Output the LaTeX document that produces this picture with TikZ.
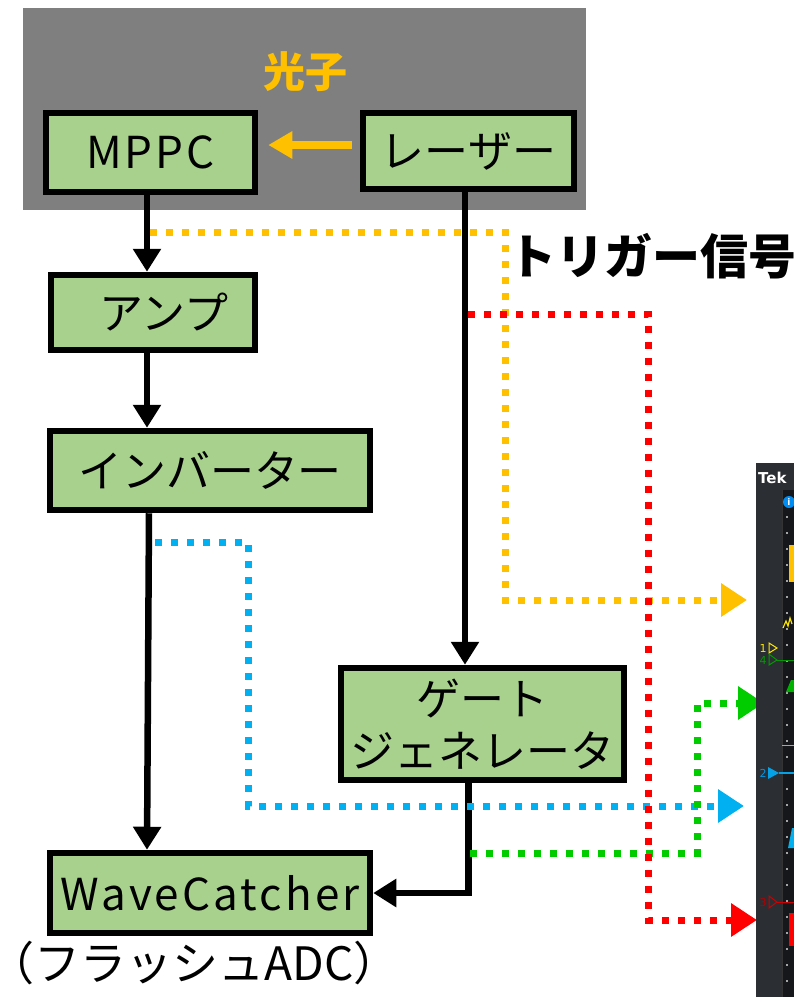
\documentclass[tikz,border=0pt]{standalone}
\usepackage{fontspec}
\setmainfont{Noto Sans CJK JP}
\newfontfamily\sansfont{DejaVu Sans}
\usetikzlibrary{arrows.meta}
\definecolor{boxgreen}{HTML}{A9D18E}
\definecolor{boxgray}{HTML}{7F7F7F}
\definecolor{sigorange}{HTML}{FFC000}
\definecolor{sigred}{HTML}{FF0000}
\definecolor{sigblue}{HTML}{00B0F0}
\definecolor{siggreen}{HTML}{00CC00}
\definecolor{scopebg}{HTML}{2B2E33}
\definecolor{scopegrid}{HTML}{15171A}
\newcommand{\spaced}[1]{{\addfontfeature{LetterSpace=7}#1}}
\tikzset{
  box/.style={draw=black, line width=6.5pt, fill=boxgreen, inner sep=0pt,
    font=\fontsize{44}{52}\selectfont, align=center},
  conn/.style={line width=6.5pt, -{Triangle[length=23pt,width=27pt]}},
  sig/.style={line width=7pt, dash pattern=on 7pt off 9pt,
    -{Triangle[length=26pt,width=32pt]}},
}
\begin{document}
\begin{tikzpicture}[x=1pt,y=-1pt]
\useasboundingbox (0,0) rectangle (794,997);
\fill[white] (0,0) rectangle (794,997);
% dark box
\fill[boxgray] (23,8) rectangle (586,210);
\node[text=sigorange, font=\fontsize{42}{44}\selectfont\bfseries] (photon) at (305,72) {光子};
% boxes
\node[box, minimum width=209pt, minimum height=79pt] (mppc) at (150.5,152.5) {\spaced{MPPC}};
\node[box, minimum width=211pt, minimum height=76pt] (laser) at (468.5,151) {レーザー};
\node[box, minimum width=204pt, minimum height=75pt] (amp) at (153,312.5) {\hspace{22pt}アンプ};
\node[box, minimum width=320pt, minimum height=79pt] (inv) at (210,470.5) {インバーター};
\node[box, minimum width=283pt, minimum height=112pt] (gate) at (482.5,724) {ゲート\\ジェネレータ};
\node[box, minimum width=320pt, minimum height=80pt] (wc) at (210,893) {\spaced{WaveCatcher}};
\node[font=\fontsize{46}{48}\selectfont, inner sep=0pt] (adc) at (194,963) {（フラッシュADC）};
\node[font=\fontsize{48}{50}\selectfont\bfseries] (trig) at (652,256) {トリガー信号};
% photon arrow
\coordinate (pa) at ([xshift=-8pt,yshift=6pt]laser.west);
\draw[sigorange, line width=8pt, -{Triangle[length=24pt,width=26pt]}] (pa) -- ([xshift=10pt]pa -| mppc.east);
% black connectors
\draw[conn] ([xshift=-3.5pt]mppc.south) -- ([xshift=-3.5pt]mppc.south |- amp.north);
\draw[conn] ([xshift=-6pt]amp.south) -- ([xshift=-6pt]amp.south |- inv.north);
\draw[conn] ([xshift=-61pt]inv.south) -- ([xshift=-63pt]wc.north);
\draw[conn] ([xshift=-3.5pt]laser.south) -- ([xshift=-3.5pt]laser.south |- gate.north);
\draw[conn] ([xshift=-14pt]gate.south) |- (wc.east);
% signal lines
\coordinate (ys) at (150,232);
\coordinate (yt) at (747,600);
\draw[sig, sigorange] (ys) -| (505,600) -- (yt);
\coordinate (bs) at (155,542);
\coordinate (bt) at (744,806);
\draw[sig, sigblue] (bs) -| (248,806) -- (bt);
\coordinate (gs) at (470,853);
\coordinate (gt) at (764,703);
\draw[sig, siggreen] (gs) -| (697,703) -- (gt);
\coordinate (rs) at (468,314);
\coordinate (rt) at (757,920);
\draw[sig, sigred] (rs) -| (648,920) -- (rt);
% oscilloscope screenshot (cropped)
\begin{scope}
\clip (756,463) rectangle (794,997);
\fill[scopebg] (756,463) rectangle (794,997);
\fill[scopegrid] (782,490) rectangle (794,997);
\draw[black!80, line width=1pt] (782.5,490) -- (782.5,997);
\foreach \yy in {500,516,...,990} {\fill[gray!70] (786,\yy) rectangle (787.5,\yy+1.5);}
\draw[gray!70, line width=0.8pt] (782,745) -- (794,745);
\node[anchor=west, text=white, font=\sansfont\bfseries\fontsize{15}{15}\selectfont, inner sep=0pt] (tek) at (758,478) {Tek};
\fill[sigblue!80!blue] (789,502) circle (6pt);
\node[text=white, font=\sansfont\bfseries\fontsize{9}{9}\selectfont, inner sep=0pt] (info) at (789,502) {i};
\fill[sigorange] (789,545) rectangle (794,582);
\draw[yellow!90!orange, line width=1.2pt] (783,628) -- (786,621) -- (788,626) -- (790,618) -- (792,624);
\node[text=yellow!90!orange, font=\sansfont\fontsize{11}{11}\selectfont, inner sep=0pt] (c1) at (763,648) {1};
\draw[yellow!90!orange, line width=1pt] (769,643) -- (777,648) -- (769,653) -- cycle;
\node[text=green!60!black, font=\sansfont\fontsize{11}{11}\selectfont, inner sep=0pt] (c4) at (763,660) {4};
\draw[green!60!black, line width=1pt] (769,654) -- (777,660) -- (769,665) -- cycle;
\draw[green!60!black, line width=1pt] (777,660) -- (794,660);
\fill[green!70!black] (786,692) -- (791,680) -- (794,680) -- (794,692) -- cycle;
\node[text=cyan!80!blue, font=\sansfont\fontsize{11}{11}\selectfont, inner sep=0pt] (c2) at (763,773) {2};
\fill[cyan!90!blue] (768,767) -- (779,773) -- (768,779) -- cycle;
\draw[cyan!90!blue, line width=1.5pt] (779,773) -- (794,773);
\fill[sigblue] (788,848) -- (792,828) -- (794,828) -- (794,848) -- cycle;
\node[text=red!70!black, font=\sansfont\fontsize{11}{11}\selectfont, inner sep=0pt] (c3) at (763,902) {3};
\draw[red!80!black, line width=1pt] (769,896) -- (777,902) -- (769,908) -- cycle;
\draw[red!80!black, line width=1pt] (777,902) -- (794,902);
\fill[red] (789,913) rectangle (794,946);
\end{scope}
\end{tikzpicture}
\end{document}
